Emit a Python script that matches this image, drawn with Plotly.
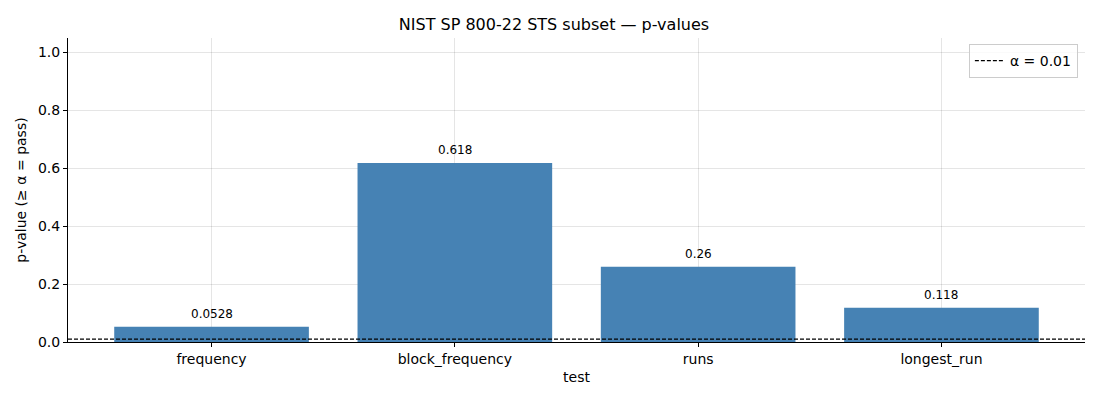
import plotly.graph_objects as go

tests = ["frequency", "block_frequency", "runs", "longest_run"]
p_values = [0.0528, 0.618, 0.26, 0.118]
value_labels = ["0.0528", "0.618", "0.26", "0.118"]
alpha = 0.01

FONT = "DejaVu Sans"
BAR_COLOR = "#4682B4"

fig = go.Figure()

fig.add_trace(go.Bar(
    x=list(range(len(tests))), y=p_values, width=0.8,
    marker=dict(color=BAR_COLOR, line=dict(width=0)),
    showlegend=False, hoverinfo="x+y"
))

# alpha threshold as a dashed line over the full x range
fig.add_trace(go.Scatter(
    x=[-0.59, len(tests) - 0.41], y=[alpha, alpha], mode="lines",
    name="α = 0.01", line=dict(color="black", width=1.2, dash="4px,2px")
))

for i, (v, lab) in enumerate(zip(p_values, value_labels)):
    fig.add_annotation(
        x=i, y=v, text=lab, showarrow=False, yanchor="bottom", yshift=4,
        font=dict(family=FONT, size=12, color="black")
    )

# page body has an 8px margin, so figure is 1092x392 to fill the window
fig.update_layout(
    width=1092, height=392,
    margin=dict(l=58, r=15, t=30, b=58),
    paper_bgcolor="white", plot_bgcolor="white",
    font=dict(family=FONT, size=14, color="black"),
    title=dict(text="NIST SP 800-22 STS subset — p-values", x=0.5, xanchor="center",
               y=0.958, yanchor="middle", font=dict(size=16)),
    xaxis=dict(
        range=[-0.59, len(tests) - 0.41], tickvals=list(range(len(tests))), ticktext=tests,
        showgrid=True, gridcolor="rgba(0,0,0,0.1)", gridwidth=1,
        showline=True, linecolor="black", linewidth=1,
        ticks="outside", ticklen=4, tickcolor="black", zeroline=False,
        layer="above traces",
        title=dict(text="test", font=dict(size=14), standoff=6)
    ),
    yaxis=dict(
        range=[0, 1.05], dtick=0.2, tickformat=".1f",
        showgrid=True, gridcolor="rgba(0,0,0,0.1)", gridwidth=1,
        showline=True, linecolor="black", linewidth=1,
        ticks="outside", ticklen=4, tickcolor="black", zeroline=False,
        layer="above traces",
        title=dict(text="p-value (≥ α = pass)", font=dict(size=14), standoff=8)
    ),
    legend=dict(
        x=0.993, y=0.98, xanchor="right", yanchor="top",
        bordercolor="#cccccc", borderwidth=1, bgcolor="rgba(255,255,255,0.8)",
        font=dict(size=14)
    ),
    bargap=0.2
)

fig.write_html("out.html")
